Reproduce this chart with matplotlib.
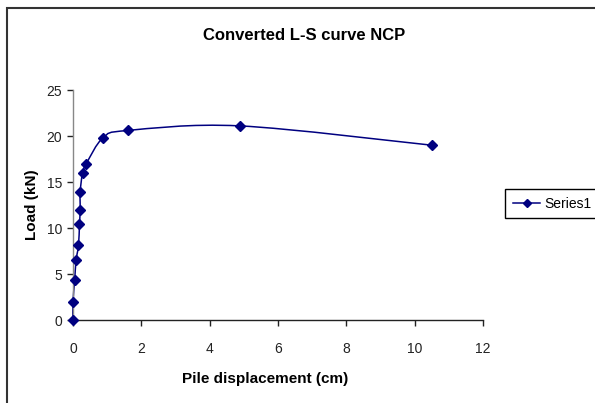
import matplotlib
matplotlib.use("Agg")
import matplotlib.pyplot as plt
import numpy as np
from matplotlib.path import Path
from matplotlib.patches import PathPatch, Rectangle

plt.rcParams['font.family'] = ['Liberation Sans', 'DejaVu Sans']

# data
displacement = [0.0, 0.0, 0.05, 0.09, 0.16, 0.19, 0.21, 0.21, 0.28, 0.39, 0.88, 1.60, 4.88, 10.5]
load = [0.0, 2.0, 4.4, 6.5, 8.1, 10.4, 12.0, 13.9, 16.0, 17.0, 19.8, 20.6, 21.1, 19.0]
x_ticks = [0, 2, 4, 6, 8, 10, 12]
y_ticks = [0, 5, 10, 15, 20, 25]

navy = '#000080'

fig = plt.figure(figsize=(5.95, 4.03), dpi=100)
ax = fig.add_axes([73/595, 1-320/403, 410/595, 230/403])
ax.set_xlim(0, 12)
ax.set_ylim(0, 25)
ax.set_xticks(x_ticks)
ax.set_yticks(y_ticks)

for s in ['top', 'right']:
    ax.spines[s].set_visible(False)
ax.spines['bottom'].set_color('#222222')
ax.spines['left'].set_color('#888888')
for s in ['left', 'bottom']:
    ax.spines[s].set_linewidth(1.0)
ax.tick_params(axis='both', direction='out', length=4, width=1, labelsize=10, colors='#222222')
ax.tick_params(axis='x', pad=12)
ax.tick_params(axis='y', pad=4)

# excel style smoothed line, computed in pixel space
fig.canvas.draw()
pts = ax.transData.transform(np.column_stack([displacement, load]))
verts = [pts[0]]
codes = [Path.MOVETO]
n = len(pts)
for i in range(n - 1):
    p0 = pts[i - 1] if i > 0 else pts[i]
    p1 = pts[i]
    p2 = pts[i + 1]
    p3 = pts[i + 2] if i + 2 < n else pts[i + 1]
    c1 = p1 + (p2 - p0) / 6
    c2 = p2 - (p3 - p1) / 6
    verts += [c1, c2, p2]
    codes += [Path.CURVE4] * 3
verts = ax.transData.inverted().transform(np.array(verts))
ax.add_patch(PathPatch(Path(verts, codes), fill=False, edgecolor=navy, lw=1.1, clip_on=False))

ax.plot(displacement, load, linestyle='none', marker='D', ms=4.8, color=navy, clip_on=False, zorder=5)

# legend handle
h, = ax.plot([], [], color=navy, lw=1.1, marker='D', ms=4, label='Series1')
leg = fig.legend(handles=[h], loc='upper left', bbox_to_anchor=(505/595, 1-189/403),
                 frameon=True, fancybox=False, edgecolor='black', framealpha=1,
                 fontsize=10, handlelength=2.0, borderpad=0.55, handletextpad=0.3,
                 borderaxespad=0)
leg.get_frame().set_linewidth(1.0)

ax.set_xlabel('Pile displacement (cm)', fontsize=11, fontweight='bold')
ax.xaxis.set_label_coords((265.5-73)/410, (320-379)/230)
ax.xaxis.label.set_va('center')
ax.set_ylabel('Load (kN)', fontsize=11, fontweight='bold')
ax.yaxis.set_label_coords((32-73)/410, 0.5)
ax.yaxis.label.set_va('center')

fig.text(304/595, 1-35.5/403, 'Converted L-S curve NCP', ha='center', va='center',
         fontsize=12, fontweight='bold')

# chart area border
fig.patches.append(Rectangle((7/595, -0.05), 1.1, 1-8/403+0.05, transform=fig.transFigure,
                             fill=False, edgecolor='#333333', lw=1.5))

fig.savefig('out.png', dpi=100)
